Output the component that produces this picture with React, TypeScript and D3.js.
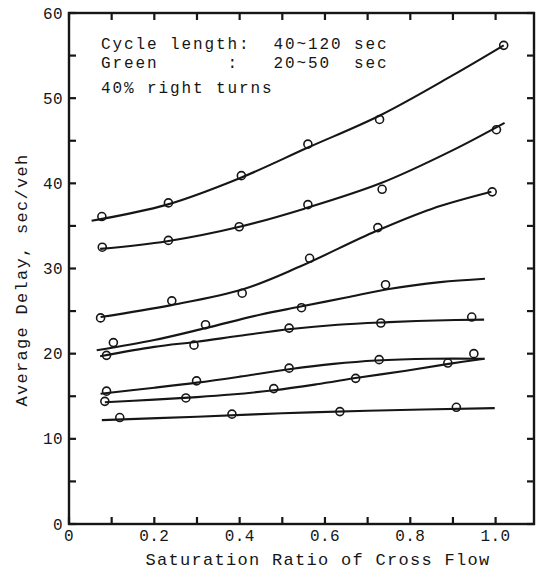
import React from "react";
import * as d3 from "d3";

// Observed points (saturation ratio, average delay sec/veh)
const obs1 = [[0.077, 36.1], [0.233, 37.7], [0.404, 40.9], [0.56, 44.6], [0.728, 47.5], [1.019, 56.2]];
const obs2 = [[0.078, 32.5], [0.233, 33.3], [0.399, 34.9], [0.56, 37.5], [0.734, 39.3], [1.002, 46.3]];
const obs3 = [[0.074, 24.2], [0.241, 26.2], [0.406, 27.1], [0.564, 31.2], [0.724, 34.8], [0.992, 39.0]];
const obs4 = [[0.104, 21.3], [0.32, 23.4], [0.545, 25.4], [0.742, 28.1]];
const obs5 = [[0.088, 19.8], [0.293, 21.0], [0.516, 23.0], [0.731, 23.6], [0.944, 24.3]];
const obs6 = [[0.088, 15.6], [0.299, 16.8], [0.516, 18.3], [0.727, 19.3], [0.949, 20.0]];
const obs7 = [[0.084, 14.4], [0.274, 14.8], [0.48, 15.9], [0.672, 17.1], [0.888, 18.9]];
const obs8 = [[0.119, 12.5], [0.382, 12.9], [0.635, 13.2], [0.908, 13.7]];

// Fitted curves
const fit1 = [[0.053, 35.6], [0.23, 37.5], [0.4, 40.6], [0.56, 44.2], [0.73, 48.0], [0.9, 52.7], [1.019, 56.2]];
const fit2 = [[0.073, 32.3], [0.23, 33.2], [0.4, 34.9], [0.55, 37.0], [0.73, 40.0], [0.9, 43.9], [1.021, 47.1]];
const fit3 = [[0.074, 24.3], [0.24, 25.7], [0.41, 27.6], [0.54, 30.2], [0.72, 34.4], [0.85, 37.0], [0.99, 39.0]];
const fit4 = [[0.065, 20.4], [0.2, 21.6], [0.32, 23.0], [0.45, 24.6], [0.54, 25.5], [0.65, 26.6], [0.75, 27.6], [0.87, 28.4], [0.975, 28.8]];
const fit5 = [[0.073, 19.7], [0.2, 20.8], [0.3, 21.4], [0.4, 22.1], [0.52, 22.9], [0.63, 23.4], [0.75, 23.7], [0.86, 23.9], [0.973, 24.0]];
const fit6 = [[0.074, 15.3], [0.2, 16.0], [0.3, 16.6], [0.4, 17.3], [0.52, 18.2], [0.62, 18.8], [0.72, 19.2], [0.85, 19.4], [0.974, 19.4]];
const fit7 = [[0.084, 14.3], [0.2, 14.6], [0.3, 14.9], [0.38, 15.2], [0.48, 15.7], [0.58, 16.4], [0.68, 17.2], [0.79, 18.0], [0.89, 18.8], [0.974, 19.4]];
const fit8 = [[0.077, 12.2], [0.3, 12.6], [0.5, 13.0], [0.7, 13.3], [0.998, 13.6]];

const observed = [obs1, obs2, obs3, obs4, obs5, obs6, obs7, obs8];
const fitted = [fit1, fit2, fit3, fit4, fit5, fit6, fit7, fit8];

const xTickLabels = ["0", "0.2", "0.4", "0.6", "0.8", "1.0"];
const xTickValues = [0, 0.2, 0.4, 0.6, 0.8, 1.0];
const yTickValues = [0, 10, 20, 30, 40, 50, 60];
const annotation = ["Cycle length:  40~120 sec", "Green      :   20~50  sec", "40% right turns"];

const W = 536;
const H = 572;
const FONT = "'Liberation Mono', 'DejaVu Sans Mono', monospace";
const INK = "#161616";

export default function App() {
  const x = d3.scaleLinear().domain([0, 1.09]).range([69, 534]);
  const y = d3.scaleLinear().domain([0, 60]).range([524, 13]);
  const line = d3
    .line<number[]>()
    .x((d) => x(d[0]))
    .y((d) => y(d[1]))
    .curve(d3.curveCatmullRom.alpha(0.5));

  const xMinor = d3.range(0, 1.09, 0.1);
  const yMinor = d3.range(0, 61, 5);
  const tl = 7;

  return (
    <svg
      width={W}
      height={H}
      style={{ position: "absolute", left: 0, top: 0, background: "#fff" }}
    >
      <rect x={0} y={0} width={W} height={H} fill="#fff" />
      {/* frame */}
      <rect
        x={x(0)}
        y={y(60)}
        width={x(1.09) - x(0)}
        height={y(0) - y(60)}
        fill="none"
        stroke={INK}
        strokeWidth={2.4}
      />
      {/* ticks */}
      {xMinor.map((v, i) => (
        <g key={"xt" + i}>
          <line x1={x(v)} x2={x(v)} y1={y(0)} y2={y(0) - tl} stroke={INK} strokeWidth={2.2} />
          <line x1={x(v)} x2={x(v)} y1={y(60)} y2={y(60) + tl} stroke={INK} strokeWidth={2.2} />
        </g>
      ))}
      {yMinor.map((v, i) => (
        <g key={"yt" + i}>
          <line x1={x(0)} x2={x(0) + tl} y1={y(v)} y2={y(v)} stroke={INK} strokeWidth={2.2} />
          <line x1={x(1.09)} x2={x(1.09) - tl} y1={y(v)} y2={y(v)} stroke={INK} strokeWidth={2.2} />
        </g>
      ))}
      {/* tick labels */}
      {xTickValues.map((v, i) => (
        <text
          key={"xl" + i}
          x={x(v)}
          y={541}
          textAnchor="middle"
          fontFamily={FONT}
          fontSize={16}
          letterSpacing={0.4}
          fill={INK}
        >
          {xTickLabels[i]}
        </text>
      ))}
      {yTickValues.map((v, i) => (
        <text
          key={"yl" + i}
          x={63}
          y={y(v)}
          dy="0.35em"
          textAnchor="end"
          fontFamily={FONT}
          fontSize={16}
          letterSpacing={0.4}
          fill={INK}
        >
          {String(v)}
        </text>
      ))}
      {/* axis titles */}
      <text
        x={318}
        y={565}
        textAnchor="middle"
        fontFamily={FONT}
        fontSize={17}
        letterSpacing={1.3}
        fill={INK}
      >
        Saturation Ratio of Cross Flow
      </text>
      <text
        transform={`translate(27, 280) rotate(-90)`}
        textAnchor="middle"
        fontFamily={FONT}
        fontSize={17}
        letterSpacing={1.3}
        fill={INK}
      >
        Average Delay, sec/veh
      </text>
      {/* annotation */}
      {annotation.map((t, i) => (
        <text
          key={"an" + i}
          x={101}
          y={[49, 68, 93][i]}
          fontFamily={FONT}
          fontSize={16}
          letterSpacing={1.9}
          fill={INK}
          style={{ whiteSpace: "pre" }}
        >
          {t}
        </text>
      ))}
      {/* fitted curves */}
      {fitted.map((f, i) => (
        <path key={"f" + i} d={line(f) || ""} fill="none" stroke={INK} strokeWidth={2.1} />
      ))}
      {/* observed points */}
      {observed.map((s, i) =>
        s.map((p, j) => (
          <circle
            key={"o" + i + "-" + j}
            cx={x(p[0])}
            cy={y(p[1])}
            r={4}
            fill="none"
            stroke={INK}
            strokeWidth={1.6}
          />
        ))
      )}
    </svg>
  );
}
